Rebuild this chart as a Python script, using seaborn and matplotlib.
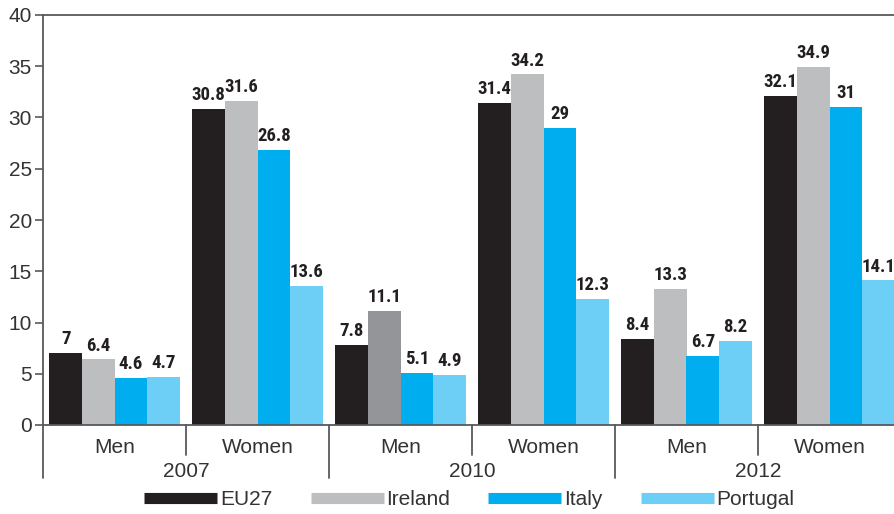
import matplotlib
matplotlib.use("Agg")
import matplotlib.pyplot as plt
from matplotlib.lines import Line2D
import matplotlib.transforms as mtransforms
import seaborn as sns
import pandas as pd

years = ["2007", "2010", "2012"]
genders = ["Men", "Women"]
countries = ["EU27", "Ireland", "Italy", "Portugal"]
eu27 = [7, 30.8, 7.8, 31.4, 8.4, 32.1]
ireland = [6.4, 31.6, 11.1, 34.2, 13.3, 34.9]
italy = [4.6, 26.8, 5.1, 29, 6.7, 31]
portugal = [4.7, 13.6, 4.9, 12.3, 8.2, 14.1]
y_ticks = [0, 5, 10, 15, 20, 25, 30, 35, 40]

colors = ["#231f20", "#bcbec0", "#00aeef", "#6dcff6"]
highlight_color = "#939598"  # 2010 Men Ireland bar

groups = [f"{y} {g}" for y in years for g in genders]
rows = []
for c, vals in zip(countries, [eu27, ireland, italy, portugal]):
    for grp, v in zip(groups, vals):
        rows.append({"group": grp, "country": c, "value": v})
df = pd.DataFrame(rows)

sns.set_style("white")
plt.rcParams["font.family"] = ["Liberation Sans", "DejaVu Sans"]
label_family = ["Roboto Condensed", "Archivo Narrow", "Liberation Sans", "DejaVu Sans"]

fig = plt.figure(figsize=(8.94, 5.14), dpi=100)
ax = fig.add_axes([43 / 894, 89 / 514, 851 / 894, 410 / 514])

sns.barplot(data=df, x="group", y="value", hue="country", order=groups,
            hue_order=countries, palette=colors, width=0.91, gap=0,
            saturation=1, linewidth=0, ax=ax, legend=False)

ax.containers[1][2].set_facecolor(highlight_color)

for cont in ax.containers:
    for bar in cont:
        h = bar.get_height()
        ax.annotate(f"{h:g}", (bar.get_x() + bar.get_width() / 2, h),
                    xytext=(0, 3.5), textcoords="offset points",
                    ha="center", va="bottom", color="#231f20",
                    family=label_family, fontweight="bold", fontsize=13.5)

ax.set_xlim(-0.5, -0.5 + 851 / 143)
ax.set_ylim(0, 40)
ax.set_yticks(y_ticks)
ax.set_yticklabels([str(t) for t in y_ticks])
ax.set_xticks([])
ax.set_xlabel("")
ax.set_ylabel("")
ax.tick_params(axis="y", which="both", left=True, length=6, width=1.2,
               color="#58595b", labelsize=15, labelcolor="#333333", pad=2)

for side in ["left", "bottom", "top"]:
    ax.spines[side].set_visible(True)
    ax.spines[side].set_color("#58595b")
    ax.spines[side].set_linewidth(1.3)
ax.spines["right"].set_visible(False)

trans = mtransforms.blended_transform_factory(ax.transData, ax.transAxes)
ax.plot([-0.5, -0.5], [0, -0.129], transform=trans, color="#58595b",
        lw=1.3, clip_on=False)
for i in range(6):
    x_right = i + 0.5
    ext = -0.073 if i % 2 == 0 else -0.129
    ax.plot([x_right, x_right], [0, ext], transform=trans,
            color="#58595b", lw=1.3, clip_on=False)
    ax.text(i, -0.054, genders[i % 2], transform=trans, ha="center",
            va="center", fontsize=15, color="#333333")
for j, yr in enumerate(years):
    ax.text(2 * j + 0.5, -0.114, yr, transform=trans, ha="center",
            va="center", fontsize=15, color="#333333")

handles = [Line2D([0], [0], color=c, lw=8, solid_capstyle="butt") for c in colors]
fig.legend(handles, countries, loc="center", bbox_to_anchor=(0.525, 0.028),
           ncol=4, frameon=False, fontsize=15, handlelength=3.5,
           handletextpad=0.12, columnspacing=1.85, labelcolor="#333333",
           borderpad=0, borderaxespad=0)

fig.savefig("out.png", dpi=100)
